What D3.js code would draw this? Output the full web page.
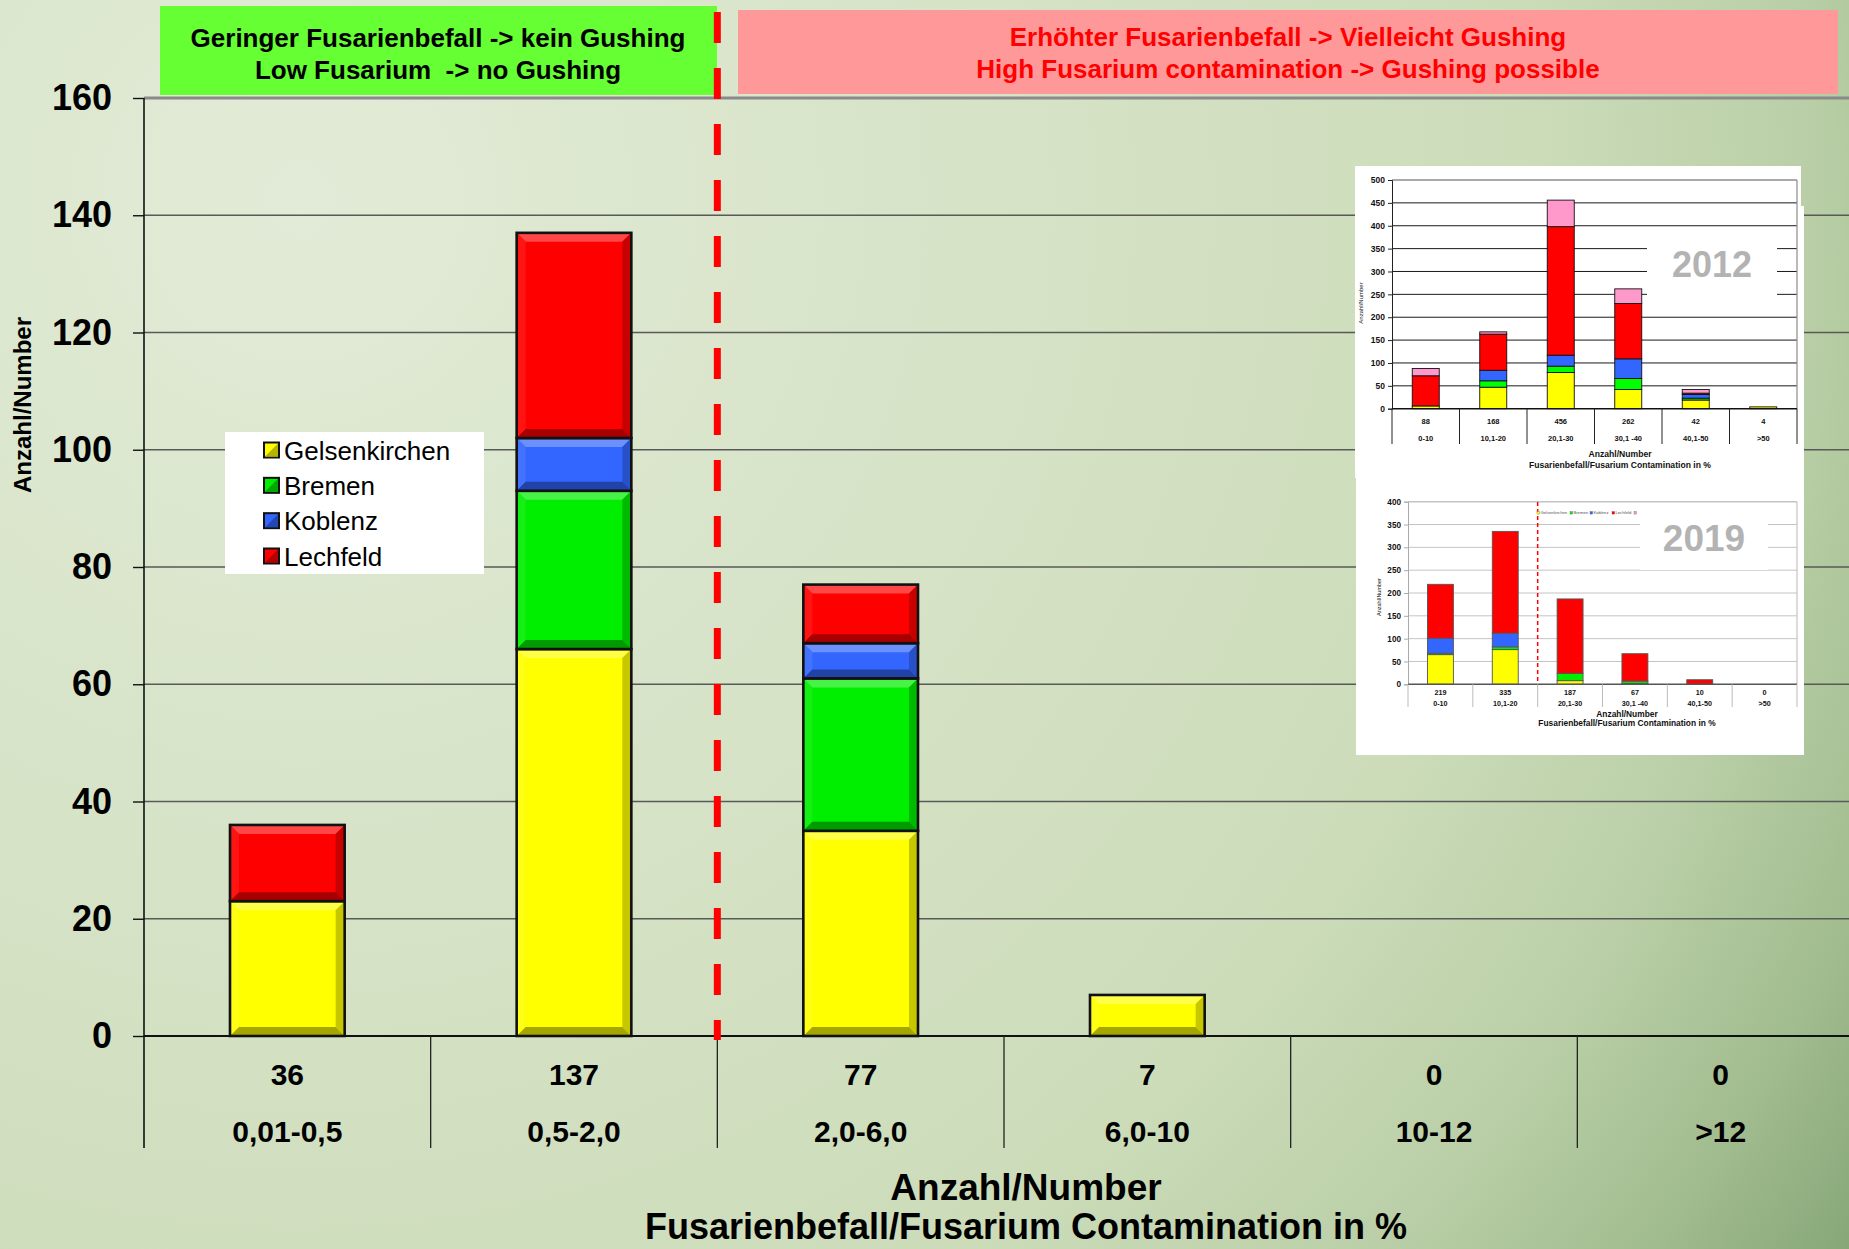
<!DOCTYPE html>
<html><head><meta charset="utf-8">
<script src="https://cdn.jsdelivr.net/npm/d3@7"></script>
<style>
html,body{margin:0;padding:0;overflow:hidden;background:#d8e4c8}
svg{display:block}
text{font-family:"Liberation Sans",Arial,Helvetica,sans-serif}
</style>
</head><body>
<svg id="chart" width="1849" height="1249"></svg>
<script>
// ---------------- main chart data ----------------
const categories = ["0,01-0,5", "0,5-2,0", "2,0-6,0", "6,0-10", "10-12", ">12"];
const seriesNames = ["Gelsenkirchen", "Bremen", "Koblenz", "Lechfeld"];
const seriesColors = ["#ffff00", "#00ee00", "#3366ff", "#ff0000"];
const gelsenkirchen = [23, 66, 35, 7, 0, 0];
const bremen = [0, 27, 26, 0, 0, 0];
const koblenz = [0, 9, 6, 0, 0, 0];
const lechfeld = [13, 35, 10, 0, 0, 0];
const yTicks = [0, 20, 40, 60, 80, 100, 120, 140, 160];
const bannerLow = ["Geringer Fusarienbefall -> kein Gushing", "Low Fusarium  -> no Gushing"];
const bannerHigh = ["Erhöhter Fusarienbefall -> Vielleicht Gushing", "High Fusarium contamination -> Gushing possible"];
const xTitle = ["Anzahl/Number", "Fusarienbefall/Fusarium Contamination in %"];
const yTitle = "Anzahl/Number";

// ---------------- inset 2012 data ----------------
const cats2012 = ["0-10", "10,1-20", "20,1-30", "30,1 -40", "40,1-50", ">50"];
const gelsen2012 = [6, 47, 79, 42, 19, 4];
const bremen2012 = [0, 14, 14, 24, 4, 0];
const koblenz2012 = [0, 23, 24, 43, 8, 0];
const lechfeld2012 = [66, 79, 281, 121, 3, 0];
const other2012 = [16, 5, 58, 32, 8, 0];
const ticks2012 = [0, 50, 100, 150, 200, 250, 300, 350, 400, 450, 500];

// ---------------- inset 2019 data ----------------
const cats2019 = ["0-10", "10,1-20", "20,1-30", "30,1 -40", "40,1-50", ">50"];
const gelsen2019 = [65, 76, 8, 2, 0, 0];
const bremen2019 = [3, 6, 16, 5, 0, 0];
const koblenz2019 = [33, 30, 0, 0, 0, 0];
const lechfeld2019 = [118, 223, 163, 60, 10, 0];
const ticks2019 = [0, 50, 100, 150, 200, 250, 300, 350, 400];

const FONT = '"Liberation Sans", Arial, Helvetica, sans-serif';
const W = 1849, H = 1249;
const svg = d3.select("#chart");
const defs = svg.append("defs");

// background
const bg = defs.append("radialGradient").attr("id", "bg")
  .attr("gradientUnits", "userSpaceOnUse")
  .attr("cx", 300).attr("cy", 200).attr("r", 1900).attr("fx", 300).attr("fy", 200);
[[0, "#e2ebd7"], [0.4, "#d5e2c5"], [0.65, "#ccdcb9"], [0.79, "#bacfa7"], [0.9, "#a1bc8f"], [1, "#82a375"]]
  .forEach(s => bg.append("stop").attr("offset", s[0]).attr("stop-color", s[1]));
svg.append("rect").attr("width", W).attr("height", H).attr("fill", "url(#bg)");

// scales
const x = d3.scaleBand().domain(categories).range([144, 1864]).paddingInner(0).paddingOuter(0);
const y = d3.scaleLinear().domain([0, 160]).range([1036, 98]);

// gridlines
const grid = svg.append("g");
yTicks.filter(t => t > 0).forEach(t => {
  grid.append("line").attr("x1", 144).attr("x2", W).attr("y1", y(t)).attr("y2", y(t))
    .attr("stroke", t === 160 ? "#8a8a8a" : "#595959")
    .attr("stroke-width", t === 160 ? 3 : 1.3);
});

// banners
const bannerG = svg.append("g");
bannerG.append("rect").attr("x", 160).attr("y", 6).attr("width", 557).attr("height", 89).attr("fill", "#66ff33");
bannerG.append("rect").attr("x", 738).attr("y", 10).attr("width", 1100).attr("height", 84).attr("fill", "#ff9999");
bannerLow.forEach((t, i) => bannerG.append("text").attr("x", 438).attr("y", 47 + i * 32)
  .attr("text-anchor", "middle").attr("font-size", 26).attr("font-weight", "bold").attr("fill", "#000")
  .style("white-space", "pre").text(t));
bannerHigh.forEach((t, i) => bannerG.append("text").attr("x", 1288).attr("y", 46 + i * 32)
  .attr("text-anchor", "middle").attr("font-size", 26).attr("font-weight", "bold").attr("fill", "#ff0000").text(t));

// ---------------- insets ----------------
function drawInset(o) {
  const g = svg.append("g");
  const yy = d3.scaleLinear().domain([0, o.max]).range([o.y0, o.y1]);
  const xx = d3.scaleBand().domain(o.cats).range([o.x0, o.x1]);
  o.ticks.filter(t => t > 0).forEach(t => {
    g.append("line").attr("x1", o.x0).attr("x2", o.x1).attr("y1", yy(t)).attr("y2", yy(t))
      .attr("stroke", t === o.max ? o.topColor : o.gridColor).attr("stroke-width", t === o.max ? 1.4 : 1);
  });
  g.append("line").attr("x1", o.x1).attr("x2", o.x1).attr("y1", yy(o.max)).attr("y2", o.y0)
    .attr("stroke", o.topColor).attr("stroke-width", 1.2);
  // year label box
  g.append("rect").attr("x", o.box[0]).attr("y", o.box[1]).attr("width", o.box[2]).attr("height", o.box[3]).attr("fill", "#fff");
  g.append("text").attr("x", o.yearX).attr("y", o.yearY).attr("text-anchor", "middle")
    .attr("font-size", o.yearSize).attr("font-weight", "bold").attr("fill", "#b3b3b3").text(o.year);
  // bars
  const keys = o.series.map(s => s.name);
  const rows = o.cats.map((c, i) => { const r = { cat: c }; o.series.forEach(s => r[s.name] = s.values[i]); return r; });
  const st = d3.stack().keys(keys)(rows);
  st.forEach((layer, k) => layer.forEach(d => {
    if (d[1] - d[0] <= 0) return;
    g.append("rect").attr("x", xx(d.data.cat) + xx.bandwidth() * 0.3).attr("width", xx.bandwidth() * 0.4)
      .attr("y", yy(d[1])).attr("height", yy(d[0]) - yy(d[1]))
      .attr("fill", o.series[k].color).attr("stroke", o.barStroke).attr("stroke-width", 0.9);
  }));
  // y axis
  const ax = g.append("g").attr("transform", `translate(${o.x0},0)`)
    .call(d3.axisLeft(yy).tickValues(o.ticks).tickSize(4).tickPadding(3));
  ax.select(".domain").attr("stroke", o.yAxisColor);
  ax.selectAll(".tick line").attr("stroke", o.yAxisColor);
  ax.selectAll("text").attr("font-family", FONT).attr("font-size", o.tickSize).attr("font-weight", "bold").attr("fill", "#111");
  // x axis line
  g.append("line").attr("x1", o.x0).attr("x2", o.x1).attr("y1", o.y0).attr("y2", o.y0).attr("stroke", o.xAxisColor).attr("stroke-width", 1.4);
  // dividers + labels
  const edges = o.cats.map(c => xx(c)).concat([o.x1]);
  edges.forEach(e => g.append("line").attr("x1", e).attr("x2", e).attr("y1", o.y0).attr("y2", o.divBottom)
    .attr("stroke", o.divColor).attr("stroke-width", 1));
  o.cats.forEach((c, i) => {
    const total = o.series.reduce((a, s) => a + s.values[i], 0);
    const cx = xx(c) + xx.bandwidth() / 2;
    g.append("text").attr("x", cx).attr("y", o.valY).attr("dy", "0.35em").attr("text-anchor", "middle")
      .attr("font-size", o.labSize).attr("font-weight", "bold").attr("fill", "#111").text(total);
    g.append("text").attr("x", cx).attr("y", o.catY).attr("dy", "0.35em").attr("text-anchor", "middle")
      .attr("font-size", o.labSize).attr("font-weight", "bold").attr("fill", "#111").text(c);
  });
  xTitle.forEach((t, i) => g.append("text").attr("x", o.titleX).attr("y", o.titleY[i]).attr("dy", "0.35em")
    .attr("text-anchor", "middle").attr("font-size", o.titleSize).attr("font-weight", "bold").attr("fill", "#111").text(t));
  g.append("text").attr("transform", `translate(${o.yTitleX},${o.yTitleY}) rotate(-90)`).attr("dy", "0.35em")
    .attr("text-anchor", "middle").attr("font-size", o.yTitleSize).attr("fill", "#111").text(yTitle);
  return { g, xx, yy };
}

// white panels
svg.append("rect").attr("x", 1355).attr("y", 166).attr("width", 446).attr("height", 312).attr("fill", "#fff");
svg.append("rect").attr("x", 1355).attr("y", 206).attr("width", 449).attr("height", 272).attr("fill", "#fff");
svg.append("rect").attr("x", 1356).attr("y", 470).attr("width", 448).attr("height", 285).attr("fill", "#fff");

drawInset({
  cats: cats2012, max: 500, ticks: ticks2012,
  x0: 1392, x1: 1797, y0: 408.7, y1: 180,
  series: [
    { name: "Gelsenkirchen", color: "#ffff00", values: gelsen2012 },
    { name: "Bremen", color: "#00ff00", values: bremen2012 },
    { name: "Koblenz", color: "#3366ff", values: koblenz2012 },
    { name: "Lechfeld", color: "#ff0000", values: lechfeld2012 },
    { name: "Andere", color: "#ff99cc", values: other2012 }
  ],
  gridColor: "#1a1a1a", topColor: "#8c8c8c", yAxisColor: "#222", xAxisColor: "#111", divColor: "#222",
  barStroke: "#111",
  box: [1647, 245, 130, 62], year: "2012", yearX: 1712, yearY: 277, yearSize: 36,
  tickSize: 8.5, labSize: 7.5, valY: 421, catY: 438, divBottom: 444,
  titleX: 1620, titleY: [454, 465], titleSize: 8.6,
  yTitleX: 1361, yTitleY: 303, yTitleSize: 6
});

const in19 = drawInset({
  cats: cats2019, max: 400, ticks: ticks2019,
  x0: 1408, x1: 1797, y0: 684.3, y1: 501.7,
  series: [
    { name: "Gelsenkirchen", color: "#ffff00", values: gelsen2019 },
    { name: "Bremen", color: "#00ee00", values: bremen2019 },
    { name: "Koblenz", color: "#3366ff", values: koblenz2019 },
    { name: "Lechfeld", color: "#ff0000", values: lechfeld2019 }
  ],
  gridColor: "#c4c4c4", topColor: "#c4c4c4", yAxisColor: "#aaa", xAxisColor: "#555", divColor: "#bbb",
  barStroke: "#555",
  box: [1640, 513, 128, 57], year: "2019", yearX: 1704, yearY: 551, yearSize: 37,
  tickSize: 8.2, labSize: 7.2, valY: 692, catY: 703, divBottom: 707,
  titleX: 1627, titleY: [714, 723], titleSize: 8.4,
  yTitleX: 1379, yTitleY: 597, yTitleSize: 5.5
});
// dashed separator in 2019 inset
in19.g.append("line").attr("x1", in19.xx(cats2019[2])).attr("x2", in19.xx(cats2019[2]))
  .attr("y1", 502).attr("y2", 682).attr("stroke", "#ff0000").attr("stroke-width", 1.5).attr("stroke-dasharray", "4,3");
// tiny legend in 2019 inset
const miniX = [1537, 1570, 1590, 1612];
seriesNames.forEach((n, i) => {
  in19.g.append("rect").attr("x", miniX[i]).attr("y", 511.5).attr("width", 2.6).attr("height", 2.6).attr("fill", seriesColors[i]).attr("stroke", "#555").attr("stroke-width", 0.3);
  in19.g.append("text").attr("x", miniX[i] + 3.4).attr("y", 514.2).attr("font-size", 4.2).attr("fill", "#555").text(n);
});
in19.g.append("rect").attr("x", 1634).attr("y", 511.5).attr("width", 2.6).attr("height", 2.6).attr("fill", "#ff99cc").attr("stroke", "#555").attr("stroke-width", 0.3);

// ---------------- main bars ----------------
function mix(c, target, k) { return d3.interpolateRgb(c, target)(k); }
const rows = categories.map((c, i) => ({
  cat: c, Gelsenkirchen: gelsenkirchen[i], Bremen: bremen[i], Koblenz: koblenz[i], Lechfeld: lechfeld[i]
}));
const stacked = d3.stack().keys(seriesNames)(rows);
const barsG = svg.append("g");
stacked.forEach((layer, k) => layer.forEach(d => {
  if (d[1] - d[0] <= 0) return;
  const bx = x(d.data.cat) + x.bandwidth() * 0.3, bw = x.bandwidth() * 0.4;
  const by = y(d[1]), bh = y(d[0]) - y(d[1]);
  const c = seriesColors[k];
  const b = Math.min(9, bh / 2, bw / 2);
  barsG.append("rect").attr("x", bx).attr("y", by).attr("width", bw).attr("height", bh).attr("fill", c);
  const poly = (pts, fill) => barsG.append("polygon").attr("points", pts.map(p => p.join(",")).join(" ")).attr("fill", fill);
  poly([[bx, by], [bx + bw, by], [bx + bw - b, by + b], [bx + b, by + b]], mix(c, "#ffffff", 0.28));
  poly([[bx, by], [bx + b, by + b], [bx + b, by + bh - b], [bx, by + bh]], mix(c, "#ffffff", 0.08));
  poly([[bx + bw, by], [bx + bw - b, by + b], [bx + bw - b, by + bh - b], [bx + bw, by + bh]], mix(c, "#000000", 0.22));
  poly([[bx, by + bh], [bx + bw, by + bh], [bx + bw - b, by + bh - b], [bx + b, by + bh - b]], mix(c, "#000000", 0.35));
  barsG.append("rect").attr("x", bx).attr("y", by).attr("width", bw).attr("height", bh)
    .attr("fill", "none").attr("stroke", "#111").attr("stroke-width", 2.6);
}));

// axes
const axG = svg.append("g");
axG.append("line").attr("x1", 144).attr("x2", W).attr("y1", 1036).attr("y2", 1036).attr("stroke", "#111").attr("stroke-width", 2.2);
axG.append("line").attr("x1", 144).attr("x2", 144).attr("y1", 98).attr("y2", 1148).attr("stroke", "#111").attr("stroke-width", 1.6);
const yAx = svg.append("g").attr("transform", "translate(144,0)")
  .call(d3.axisLeft(y).tickValues(yTicks).tickSize(11).tickPadding(21));
yAx.select(".domain").remove();
yAx.selectAll(".tick line").attr("stroke", "#111").attr("stroke-width", 1.4);
yAx.selectAll("text").attr("font-family", FONT).attr("font-size", 36).attr("font-weight", "bold").attr("fill", "#000");

// category dividers and labels
const edges = categories.map(c => x(c)).concat([1864]);
edges.slice(1).forEach(e => axG.append("line").attr("x1", e).attr("x2", e).attr("y1", 1036).attr("y2", 1148)
  .attr("stroke", "#222").attr("stroke-width", 1.3));
categories.forEach((c, i) => {
  const total = gelsenkirchen[i] + bremen[i] + koblenz[i] + lechfeld[i];
  const cx = x(c) + x.bandwidth() / 2;
  axG.append("text").attr("x", cx).attr("y", 1085).attr("text-anchor", "middle")
    .attr("font-size", 30).attr("font-weight", "bold").attr("fill", "#000").text(total);
  axG.append("text").attr("x", cx).attr("y", 1142).attr("text-anchor", "middle")
    .attr("font-size", 30).attr("font-weight", "bold").attr("fill", "#000").text(c);
});

// axis titles
axG.append("text").attr("x", 1026).attr("y", 1200).attr("text-anchor", "middle")
  .attr("font-size", 37).attr("font-weight", "bold").attr("fill", "#000").text(xTitle[0]);
axG.append("text").attr("x", 1026).attr("y", 1239).attr("text-anchor", "middle")
  .attr("font-size", 36).attr("font-weight", "bold").attr("fill", "#000").text(xTitle[1]);
axG.append("text").attr("transform", "translate(23,405) rotate(-90)").attr("dy", "0.35em")
  .attr("text-anchor", "middle").attr("font-size", 24).attr("font-weight", "bold").attr("fill", "#000").text(yTitle);

// dashed threshold line
svg.append("line").attr("x1", x(categories[2])).attr("x2", x(categories[2]))
  .attr("y1", 12).attr("y2", 1040).attr("stroke", "#ff0000").attr("stroke-width", 7).attr("stroke-dasharray", "31,25");

// legend
const lg = svg.append("g");
lg.append("rect").attr("x", 225).attr("y", 432).attr("width", 259).attr("height", 142).attr("fill", "#fff");
const legendRowY = d3.scalePoint().domain(seriesNames).range([450, 556]);
seriesNames.forEach((n, i) => {
  const cy = legendRowY(n);
  const c = seriesColors[i];
  lg.append("rect").attr("x", 264).attr("y", cy - 7.5).attr("width", 15).attr("height", 15).attr("fill", c)
    .attr("stroke", "#111").attr("stroke-width", 2);
  lg.append("polygon").attr("points", `${265},${cy + 6.5} ${278},${cy + 6.5} ${278},${cy - 6.5}`).attr("fill", mix(c, "#000", 0.3));
  lg.append("text").attr("x", 284).attr("y", cy + 9.5).attr("font-size", 26).attr("fill", "#000").text(n);
});
</script>
</body></html>
